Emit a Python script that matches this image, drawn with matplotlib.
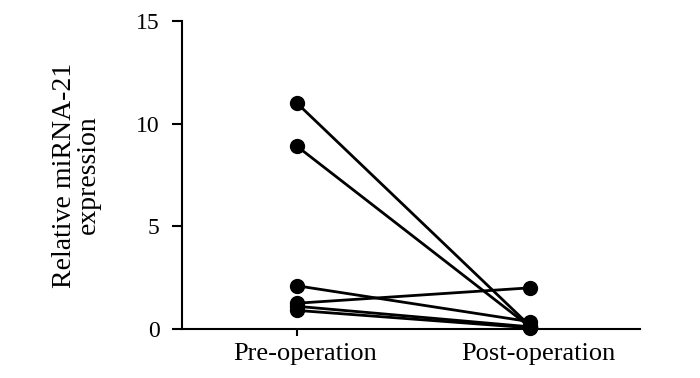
import matplotlib.pyplot as plt
import matplotlib.transforms as mtransforms

plt.rcParams['font.family'] = ['Liberation Serif', 'DejaVu Serif']

groups = ["Pre-operation", "Post-operation"]
pre_values = [11.0, 8.9, 2.1, 1.25, 1.1, 0.9]
post_values = [0.15, 0.1, 0.35, 2.0, 0.1, 0.05]

fig = plt.figure(figsize=(7, 3.78), dpi=100)
ax = fig.add_axes([0.26, 0.13, 0.654, 0.814])

for a, b in zip(pre_values, post_values):
    ax.plot([0, 1], [a, b], color='black', linewidth=2.0, marker='o',
            markersize=10, clip_on=False, zorder=3)

ax.set_xlim(-0.494, 1.472)
ax.set_ylim(0, 15)
ax.set_yticks([0, 5, 10, 15])
ax.set_xticks([0, 1])
ax.set_xticklabels(groups)
ax.set_ylabel('Relative miRNA-21\nexpression', fontsize=20, linespacing=0.95, labelpad=25)

ax.spines['top'].set_visible(False)
ax.spines['right'].set_visible(False)
for s in ['left', 'bottom']:
    ax.spines[s].set_linewidth(1.5)
ax.tick_params(axis='y', labelsize=17, pad=8.6, width=1.5, length=7.5, direction='out')
ax.tick_params(axis='x', labelsize=19, pad=5, width=1.5, length=5, direction='out')

# x labels sit a little right of their ticks in the original
shift = mtransforms.ScaledTranslation(8 / 100, 0, fig.dpi_scale_trans)
for lbl in ax.get_xticklabels():
    lbl.set_transform(lbl.get_transform() + shift)

fig.savefig('out.png', dpi=100)
